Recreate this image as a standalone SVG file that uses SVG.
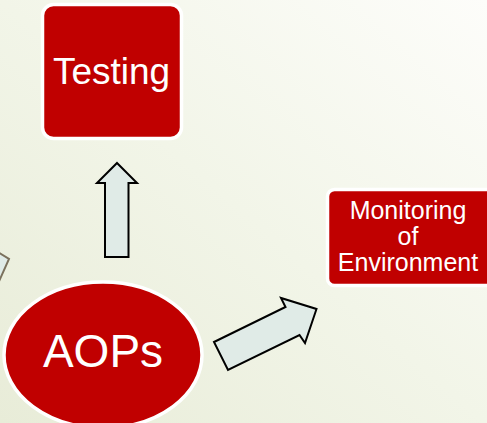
<svg xmlns="http://www.w3.org/2000/svg" width="487" height="423" viewBox="0 0 487 423">
  <defs>
    <linearGradient id="bg" x1="0" y1="1" x2="1" y2="0">
      <stop offset="0" stop-color="#e8ecd8"/>
      <stop offset="0.5" stop-color="#f2f5e8"/>
      <stop offset="1" stop-color="#fdfdfa"/>
    </linearGradient>
  </defs>
  <style>
    .node { fill: #c00000; stroke: #ffffff; stroke-width: 3.5; }
    .lbl { fill: #ffffff; font-family: "Liberation Sans", Arial, sans-serif; text-anchor: middle; }
    .arrow { fill: #e0ebe7; stroke: #000000; stroke-width: 2; stroke-linejoin: miter; }
  </style>
  <rect x="0" y="0" width="487" height="423" fill="url(#bg)"/>

  <g id="connectors">
    <polygon class="arrow" points="117,163 137,183 128.5,183 128.5,257 105,257 105,183 97,183"/>
    <polygon class="arrow" points="214,342 285.5,307 281,298 316.5,309 305,343 299.5,335 228,370"/>
    <polygon class="arrow" style="stroke:#7b715d" points="-12,246 9,259 -4,288"/>
  </g>

  <g id="testing">
    <rect class="node" x="42.5" y="4.5" width="139" height="134" rx="11"/>
    <text class="lbl" x="111.5" y="84" font-size="37">Testing</text>
  </g>

  <g id="monitoring">
    <rect class="node" x="327.5" y="189.5" width="170" height="96" rx="7"/>
    <text class="lbl" x="408" y="219" font-size="25">Monitoring</text>
    <text class="lbl" x="408" y="245" font-size="25">of</text>
    <text class="lbl" x="408" y="271" font-size="25">Environment</text>
  </g>

  <g id="aops">
    <ellipse class="node" cx="103" cy="355" rx="99" ry="73"/>
    <text class="lbl" x="103" y="367" font-size="46">AOPs</text>
  </g>
</svg>
